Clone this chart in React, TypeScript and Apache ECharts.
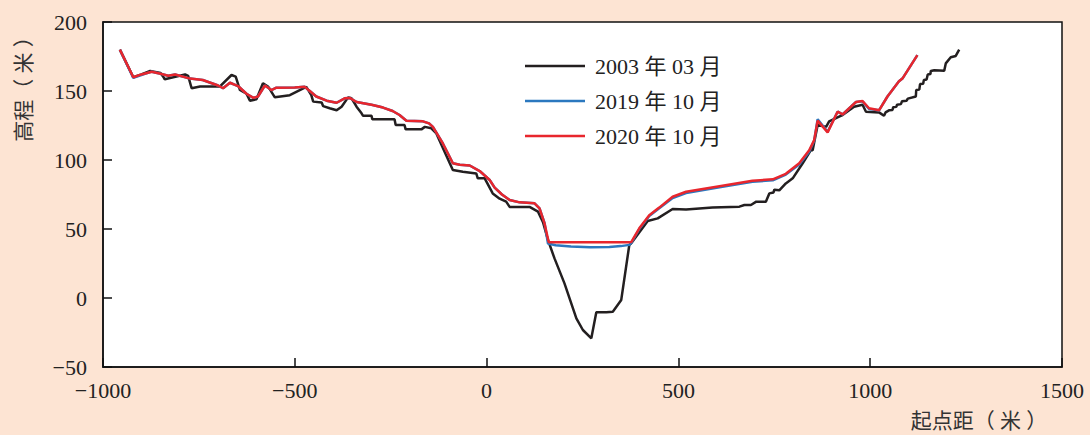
import React, { useEffect, useRef } from "react";
import * as echarts from "echarts";

// Cross-section survey: distance from starting point (m) vs. elevation (m)
const seriesNames = ["2003 年 03 月", "2019 年 10 月", "2020 年 10 月"];

const xTicks = { min: -1000, max: 1500, interval: 500 };
const yTicks = { min: -50, max: 200, interval: 50 };

const profile2003: [number, number][] = [
  [-956, 180], [-921, 160], [-900, 162], [-877, 164.5], [-850, 163], [-843, 160.4],
  [-839, 158.5], [-817, 160], [-786, 162], [-778, 161], [-769, 152], [-747, 153.3],
  [-695, 153.3], [-665, 161.6], [-654, 160.4], [-643, 150.7], [-626, 148], [-617, 143],
  [-600, 144], [-583, 155.6], [-569, 153], [-552, 145.4], [-513, 147], [-474, 152.4],
  [-470, 153], [-457, 147], [-452, 142.3], [-430, 141.6], [-426, 139], [-409, 137.5],
  [-391, 136], [-378, 138.6], [-361, 145.4], [-352, 144.7], [-339, 138.6], [-326, 133.8],
  [-322, 132], [-300, 132], [-298, 129.5], [-240, 129.5], [-237, 125.4], [-214, 125.4],
  [-211, 122.2], [-170, 122.2], [-161, 124], [-144, 123], [-131, 119.3], [-96, 97.6],
  [-88, 92.8], [-62, 91.5], [-27, 90.3], [-23, 86.7], [-5, 86.7], [16, 75.8], [34, 72],
  [51, 69.8], [60, 66], [112, 66], [134, 62.6], [147, 55], [160, 42], [177, 28.7],
  [203, 10.6], [234, -14.7], [251, -23.2], [273, -29.2], [286, -10.4], [312, -10.4],
  [329, -9.9], [351, -1.4], [372, 38.4], [377, 39.6], [420, 55.8], [446, 57.7],
  [485, 64.5], [520, 64.2], [589, 65.5], [659, 66.2], [672, 67.4], [689, 67.4],
  [703, 69.8], [728, 69.8], [737, 75.8], [748, 76.5], [750, 78.5], [763, 78], [780, 83],
  [798, 86.7], [824, 97.6], [845, 107], [850, 107], [863, 125.4], [885, 124], [893, 128],
  [919, 131.5], [928, 132.6], [958, 138.6], [980, 140], [989, 135], [1023, 134.5],
  [1036, 132], [1040, 134.5], [1049, 136], [1058, 136.2], [1060, 138.3], [1068, 138.5],
  [1070, 140], [1080, 140.5], [1083, 142.5], [1095, 143], [1098, 144.5], [1119, 146],
  [1120, 150.7], [1128, 151], [1130, 155], [1138, 155.3], [1140, 158], [1147, 158.3],
  [1150, 162], [1157, 162.3], [1158, 164.5], [1167, 165], [1193, 164.7], [1197, 170],
  [1210, 174.4], [1223, 175.4], [1232, 180],
];

const profile2019: [number, number][] = [
  [-956, 180], [-921, 159.5], [-900, 161.5], [-873, 164], [-850, 162.5], [-830, 161],
  [-812, 162], [-773, 159], [-740, 158], [-700, 154], [-687, 152], [-669, 156],
  [-648, 153.6], [-626, 148], [-608, 145], [-596, 146], [-578, 154], [-561, 150.7],
  [-548, 152.4], [-500, 152.5], [-474, 153], [-461, 150], [-444, 146], [-417, 143],
  [-391, 141.5], [-370, 144.7], [-357, 145], [-339, 142], [-300, 140], [-270, 138],
  [-245, 135.5], [-227, 132.6], [-209, 128.5], [-166, 128], [-150, 126.5], [-140, 124],
  [-114, 112], [-88, 97.6], [-70, 96.5], [-44, 96], [-18, 92], [8, 85.5], [21, 80],
  [40, 75], [60, 71], [86, 69.3], [125, 68.6], [138, 65], [151, 54.5], [160, 39.5],
  [180, 38.2], [220, 37.3], [270, 36.8], [320, 37], [350, 37.6], [372, 38.5], [377, 39.8],
  [398, 50], [424, 59.5], [450, 65], [485, 72.5], [520, 76], [607, 80.3], [693, 84.2],
  [746, 85.3], [780, 89.5], [815, 96.8], [841, 106], [854, 114], [863, 129.5], [889, 120.5],
  [915, 135], [928, 133], [963, 142], [980, 142.5], [997, 137], [1023, 136], [1045, 146],
  [1075, 157], [1084, 159], [1123, 176],
];

const profile2020: [number, number][] = [
  [-956, 180], [-921, 160], [-900, 162], [-873, 164], [-850, 162.5], [-830, 161],
  [-812, 162], [-773, 159], [-740, 158], [-700, 154], [-687, 152], [-669, 156],
  [-648, 153.6], [-626, 148], [-608, 145], [-596, 146], [-578, 154], [-561, 150.7],
  [-548, 152.4], [-500, 152.5], [-474, 153], [-461, 150], [-444, 146], [-417, 143],
  [-391, 141.5], [-370, 144.7], [-357, 145], [-339, 142], [-300, 140], [-270, 138],
  [-245, 135.5], [-227, 132.6], [-209, 128.5], [-166, 128], [-150, 126.5], [-140, 124],
  [-114, 112], [-88, 97.6], [-70, 96.5], [-44, 96], [-18, 92], [8, 85.5], [21, 80],
  [40, 75], [60, 71], [86, 69.3], [125, 68.6], [138, 65], [151, 54], [162, 40.4],
  [372, 40.4], [377, 40.5], [398, 50.5], [424, 60], [450, 65.5], [485, 73.4], [520, 77],
  [607, 81], [693, 85], [746, 86], [780, 90], [815, 97.6], [841, 107], [854, 114.5],
  [863, 128.5], [889, 120], [915, 135], [928, 133], [963, 142], [980, 142.7],
  [997, 137.5], [1023, 136], [1045, 146], [1075, 157], [1084, 159], [1123, 176],
];

const seriesColors = ["#231f20", "#2b78bf", "#e8262d"];

const serif = "'Liberation Serif', 'Times New Roman', 'Noto Sans CJK SC', serif";

const fmtNum = (v: number) => (v < 0 ? "\u2212" + Math.abs(v) : String(v));

export default function App() {
  const ref = useRef<HTMLDivElement>(null);

  useEffect(() => {
    if (!ref.current) return;
    const chart = echarts.init(ref.current, undefined, { renderer: "svg" });
    const datasets = [profile2003, profile2019, profile2020];

    chart.setOption({
      animation: false,
      backgroundColor: "#fde4d3",
      grid: {
        left: 103,
        right: 28,
        top: 22,
        bottom: 68,
        show: true,
        backgroundColor: "#ffffff",
        borderColor: "#111",
        borderWidth: 1.5,
      },
      legend: {
        orient: "vertical",
        left: 520,
        top: 50,
        itemWidth: 60,
        itemHeight: 2.5,
        itemGap: 13,
        icon: "rect",
        data: seriesNames,
        textStyle: {
          fontFamily: serif,
          fontSize: 22,
          lineHeight: 22,
          color: "#222",
          padding: [0, 0, 0, 5],
        },
      },
      xAxis: {
        type: "value",
        min: xTicks.min,
        max: xTicks.max,
        interval: xTicks.interval,
        splitLine: { show: false },
        axisLine: { onZero: false, lineStyle: { color: "#111", width: 1.5 } },
        axisTick: { inside: true, length: 9, lineStyle: { color: "#111", width: 1.5 } },
        axisLabel: {
          formatter: fmtNum,
          fontFamily: serif,
          fontSize: 22,
          color: "#222",
          margin: 12,
        },
      },
      yAxis: {
        type: "value",
        min: yTicks.min,
        max: yTicks.max,
        interval: yTicks.interval,
        splitLine: { show: false },
        axisLine: { onZero: false, lineStyle: { color: "#111", width: 1.5 } },
        axisTick: { inside: true, length: 9, lineStyle: { color: "#111", width: 1.5 } },
        axisLabel: {
          formatter: fmtNum,
          fontFamily: serif,
          fontSize: 22,
          color: "#222",
          margin: 16,
        },
      },
      graphic: [
        {
          type: "text",
          x: 24,
          y: 84,
          rotation: Math.PI / 2,
          style: {
            text: "高程（ 米 ）",
            fontFamily: serif,
            fontSize: 21,
            fill: "#333",
            align: "center",
            verticalAlign: "middle",
          },
        },
        {
          type: "text",
          x: 979,
          y: 421,
          style: {
            text: "起点距（ 米 ）",
            fontFamily: serif,
            fontSize: 21,
            fill: "#333",
            align: "center",
            verticalAlign: "middle",
          },
        },
      ],
      series: datasets.map((d, i) => ({
        name: seriesNames[i],
        type: "line",
        data: d,
        showSymbol: false,
        symbol: "none",
        lineStyle: { color: seriesColors[i], width: 2.5 },
        itemStyle: { color: seriesColors[i] },
        z: 2 + i,
      })),
    });

    return () => chart.dispose();
  }, []);

  return (
    <div
      ref={ref}
      style={{ position: "absolute", left: 0, top: 0, width: 1090, height: 435 }}
    />
  );
}
